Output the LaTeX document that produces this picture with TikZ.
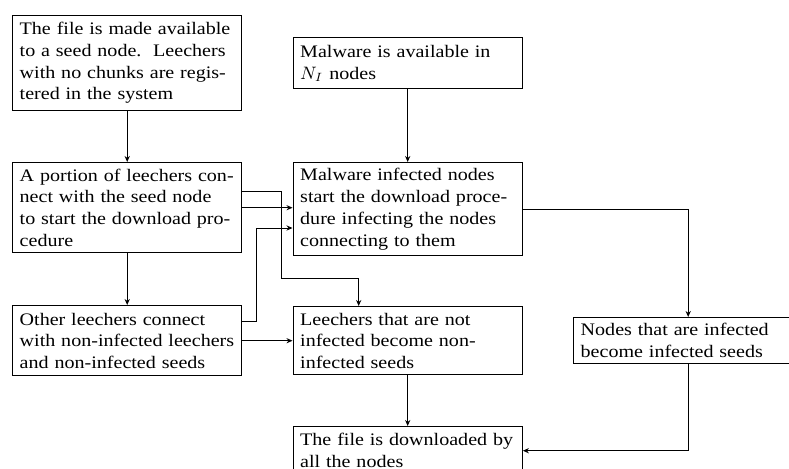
\documentclass[tikz,border=0pt]{standalone}
\usepackage{fontspec}
\setmainfont{Liberation Serif}[FakeStretch=1.14]
\usetikzlibrary{arrows.meta}
\newcommand\Lx[1]{\mbox{#1}}
\tikzset{
  box/.style={draw, line width=0.7pt, anchor=north west, align=left,
    text width=107.5pt, inner xsep=3.5pt, inner ysep=0pt,
    font=\fontsize{8.8}{10.85}\selectfont},
  arr/.style={line width=0.5pt, -{Stealth[length=3pt,width=2.6pt]}}
}
\begin{document}
\begin{tikzpicture}[x=0.5pt,y=-0.5pt]
\path[use as bounding box] (0,0) rectangle (789,468);
\clip (0,0) rectangle (789,468);
\node[box, minimum height=47.75pt] (A) at (12,14.5)
  {\Lx{The file is made available}\\\Lx{to a seed node.\ \ Leechers}\\\Lx{with no chunks are regis-}\\\Lx{tered in the system}};
\node[box, minimum height=45pt] (B) at (12,162)
  {\Lx{A portion of leechers con-}\\\Lx{nect with the seed node}\\\Lx{to start the download pro-}\\\Lx{cedure}};
\node[box, minimum height=35pt] (C) at (12,305)
  {\Lx{Other leechers connect}\\\Lx{with non-infected leechers}\\\Lx{and non-infected seeds}};
\node[box, minimum height=25.5pt] (D) at (292.5,37)
  {\Lx{Malware is available in}\\\Lx{$N_I$ nodes}};
\node[box, minimum height=46.5pt] (E) at (292.5,162)
  {\Lx{Malware infected nodes}\\\Lx{start the download proce-}\\\Lx{dure infecting the nodes}\\\Lx{connecting to them}};
\node[box, minimum height=34pt] (F) at (292.5,306)
  {\Lx{Leechers that are not}\\\Lx{infected become non-}\\\Lx{infected seeds}};
\node[box, minimum height=24pt] (G) at (292.5,426)
  {\Lx{The file is downloaded by}\\\Lx{all the nodes}};
\node[box, minimum height=23pt] (H) at (573,317)
  {\Lx{Nodes that are infected}\\\Lx{become infected seeds}};
\coordinate (k1) at (281,278);
\coordinate (k2) at (256,228);
\draw[arr] (A.south) -- (B.north);
\draw[arr] (B.south) -- (C.north);
\draw[arr] (D.south) -- (E.north);
\draw[arr] ([yshift=8pt]B.east) -| (k1) -| ([xshift=-24.5pt]F.north);
\draw[arr] (B.east) -- (B.east -| E.west);
\draw[arr] ([yshift=9.5pt]C.east) -| (k2) -- (k2 -| E.west);
\draw[arr] (C.east) -- (C.east -| F.west);
\draw[arr] (E.east) -| (H.north);
\draw[arr] (F.south) -- (G.north);
\draw[arr] (H.south) |- (G.east);
\end{tikzpicture}
\end{document}
